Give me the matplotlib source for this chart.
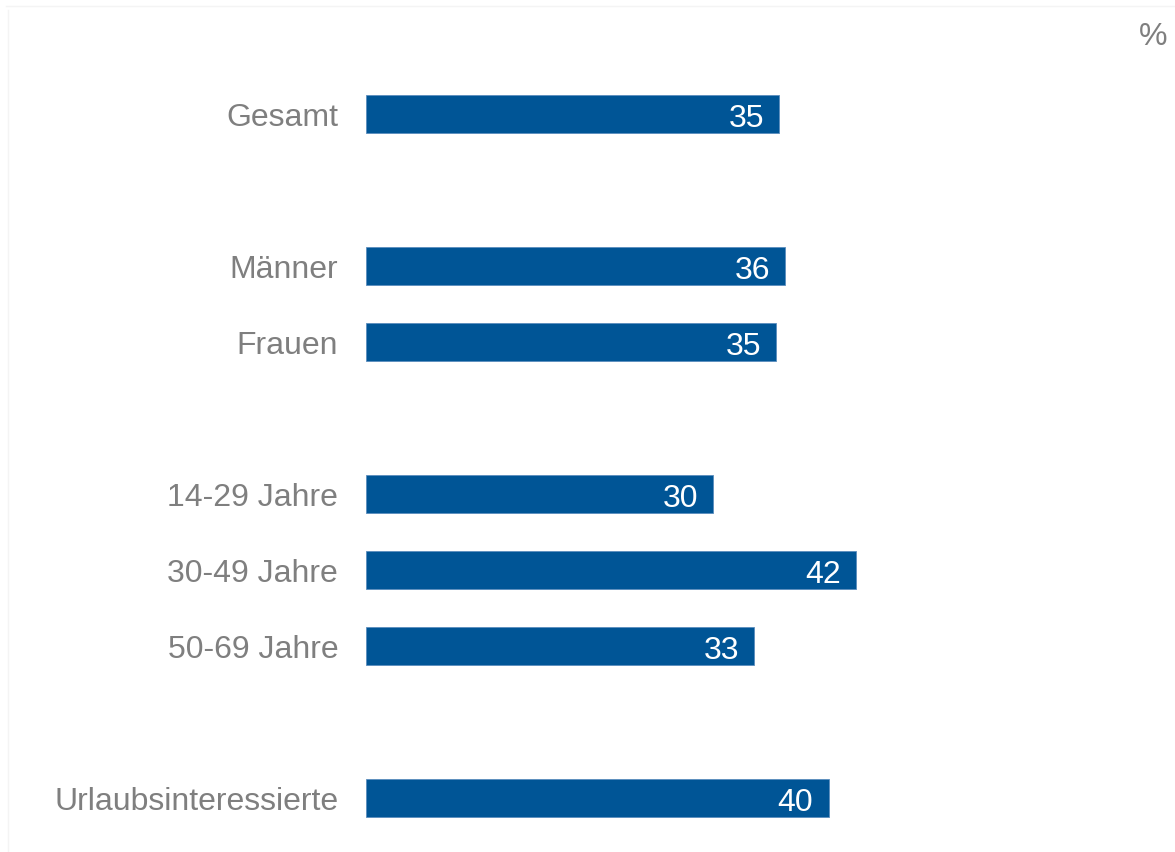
import matplotlib.pyplot as plt

# Daten
labels = ['Gesamt', 'Männer', 'Frauen', '14-29 Jahre', '30-49 Jahre', '50-69 Jahre', 'Urlaubsinteressierte']
werte = [35.49, 36.0, 35.2, 29.8, 42.1, 33.3, 39.7]
pos = [0, 2, 3, 5, 6, 7, 9]

plt.rcParams['font.family'] = ['Liberation Sans', 'DejaVu Sans']

fig = plt.figure(figsize=(11.75, 8.52), dpi=100)
ax = fig.add_axes([366 / 1175, 0, 1 - 366 / 1175, 1])

ax.barh(pos, werte, height=0.5, color='#005596', edgecolor='#5b8dbd', linewidth=0.6)

for p, w in zip(pos, werte):
    ax.text(w - 1.3, p + 0.06, f'{round(w):d}', ha='right', va='center',
            color='white', fontsize=23)

ax.set_yticks(pos)
ax.set_yticklabels(labels, fontsize=23, color='#7f7f7f')
ax.tick_params(axis='y', length=0, pad=20)
ax.set_xticks([])
ax.set_xlim(0, (1175 - 366) / 11.65)
ax.set_ylim(9.71, -1.5)
for s in ax.spines.values():
    s.set_visible(False)

fig.text(1153 / 1175, 1 - 37 / 852, '%', ha='center', va='center', fontsize=23, color='#7f7f7f')

# dezente Rahmenlinien
fig.add_artist(plt.Line2D([6 / 1175, 1], [1 - 6 / 852, 1 - 6 / 852], color='#f4f4f4', lw=1))
fig.add_artist(plt.Line2D([8 / 1175, 8 / 1175], [0, 1 - 10 / 852], color='#f4f4f4', lw=1))

fig.savefig('out.png', dpi=100)
